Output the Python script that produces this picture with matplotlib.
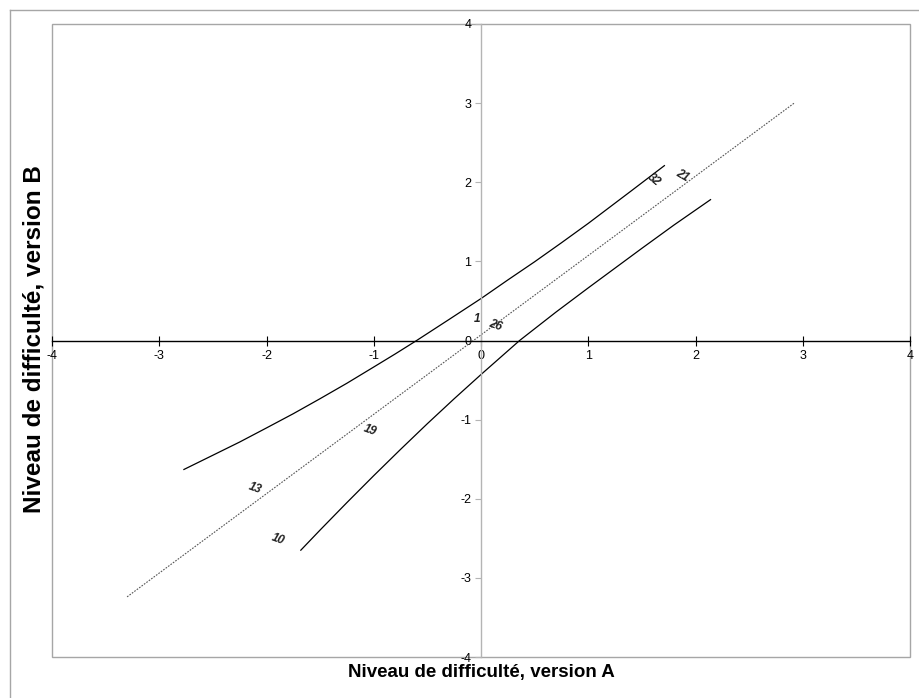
import matplotlib
matplotlib.use("Agg")
import matplotlib.pyplot as plt
from matplotlib.lines import Line2D
from matplotlib.patches import Rectangle

# reference line (version A vs version B)
ref_x = [-3.30, 2.92]
ref_y = [-3.24, 3.00]

# upper band
upper_x = [-2.77, -2.5, -2.25, -2.0, -1.75, -1.5, -1.25, -1.0, -0.8, -0.6, -0.3,
           0.0, 0.25, 0.5, 0.75, 1.0, 1.2, 1.4, 1.71]
upper_y = [-1.63, -1.45, -1.283, -1.105, -0.925, -0.735, -0.54, -0.335, -0.17, 0.0, 0.264,
           0.53, 0.765, 0.995, 1.235, 1.48, 1.685, 1.89, 2.21]

# lower band
lower_x = [-1.68, -1.5, -1.25, -1.0, -0.75, -0.5, -0.25, 0.0, 0.36, 0.7, 1.0, 1.5, 1.8, 2.14]
lower_y = [-2.65, -2.395, -2.048, -1.708, -1.376, -1.051, -0.736, -0.43, 0.0, 0.36, 0.665,
           1.165, 1.46, 1.78]

# item labels
item_names = ["1", "26", "32", "21", "19", "13", "10"]
item_x = [-0.04, 0.13, 1.61, 1.88, -1.04, -2.11, -1.89]
item_y = [0.27, 0.19, 2.03, 2.08, -1.13, -1.87, -2.51]
item_rot = [0, -20, -40, -30, -20, -20, -20]

ticks = [-4, -3, -2, -1, 0, 1, 2, 3, 4]

plt.rcParams["font.family"] = ["Liberation Sans", "DejaVu Sans"]

fig = plt.figure(figsize=(9.19, 6.98), dpi=100)
ax = fig.add_axes([52 / 919, 41 / 698, 858 / 919, 633 / 698])

ax.plot(ref_x, ref_y, color="#555555", lw=0.8, linestyle=(0, (1.5, 1.2)))
ax.plot(upper_x, upper_y, color="black", lw=0.9)
ax.plot(lower_x, lower_y, color="black", lw=0.9)

for name, x, y, r in zip(item_names, item_x, item_y, item_rot):
    ax.text(x, y, name, fontsize=8.5, fontstyle="italic", fontweight="bold",
            rotation=r, ha="center", va="center", color="#222222")

ax.set_xlim(-4, 4)
ax.set_ylim(-4, 4)
ax.set_xticks(ticks)
ax.set_yticks(ticks)
ax.set_xticklabels([str(t) for t in ticks])
ax.set_yticklabels([str(t) for t in ticks])

for s in ["top", "right"]:
    ax.spines[s].set_visible(False)
ax.spines["left"].set_position(("data", 0))
ax.spines["bottom"].set_position(("data", 0))
ax.spines["left"].set_color("#b4b4b4")
ax.spines["left"].set_linewidth(1.0)
ax.spines["bottom"].set_color("black")
ax.spines["bottom"].set_linewidth(1.0)

ax.tick_params(axis="x", direction="inout", length=7, width=0.8, color="black",
               labelsize=9, pad=3)
ax.tick_params(axis="y", direction="out", length=4, width=0.8, color="#b4b4b4",
               labelsize=9, pad=3)

# plot area border
ax.add_patch(Rectangle((0, 0), 1, 1, transform=ax.transAxes, fill=False,
                       edgecolor="#a6a6a6", lw=1.0, clip_on=False, zorder=0))

fig.text(481 / 919, 1 - 672 / 698, "Niveau de difficulté, version A",
         ha="center", va="center", fontsize=13.5, fontweight="bold")
fig.text(34 / 919, 1 - 339 / 698, "Niveau de difficulté, version B",
         ha="center", va="center", fontsize=17.5, fontweight="bold", rotation=90)

# outer chart border (top and left visible)
fig.add_artist(Line2D([10 / 919, 1], [1 - 10 / 698] * 2, color="#a6a6a6", lw=1.0))
fig.add_artist(Line2D([10 / 919] * 2, [0, 1 - 10 / 698], color="#a6a6a6", lw=1.0))

fig.savefig("out.png", dpi=100, facecolor="white")
